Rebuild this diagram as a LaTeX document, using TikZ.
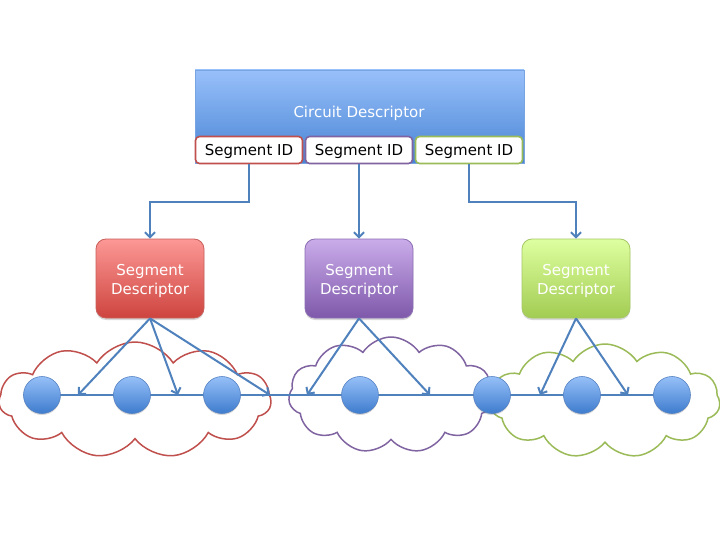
\documentclass[tikz,border=0pt]{standalone}
\usepackage{fontspec}
\setmainfont{DejaVu Sans}
\usetikzlibrary{arrows.meta,shapes.symbols,shadows}
\definecolor{blueline}{RGB}{79,129,189}
\definecolor{redC}{RGB}{192,80,77}
\definecolor{purpleC}{RGB}{128,100,162}
\definecolor{greenC}{RGB}{155,187,89}
\definecolor{cdtop}{RGB}{152,192,250}
\definecolor{cdbot}{RGB}{72,132,212}
\definecolor{cdborder}{RGB}{120,165,225}
\definecolor{redtop}{RGB}{252,152,150}
\definecolor{redbot}{RGB}{206,68,62}
\definecolor{redborder}{RGB}{200,95,90}
\definecolor{purtop}{RGB}{202,172,234}
\definecolor{purbot}{RGB}{126,88,170}
\definecolor{purborder}{RGB}{140,110,180}
\definecolor{grntop}{RGB}{222,255,160}
\definecolor{grnbot}{RGB}{162,204,82}
\definecolor{grnborder}{RGB}{165,200,100}
\definecolor{dottop}{RGB}{150,192,248}
\definecolor{dotbot}{RGB}{62,124,206}
\definecolor{dotborder}{RGB}{85,130,195}
\begin{document}
\begin{tikzpicture}[x=1pt,y=-1pt,
  font=\fontsize{15}{19}\selectfont,
  circuitbox/.style={draw=cdborder, line width=0.6pt, top color=cdtop, bottom color=cdbot,
    minimum width=329pt, minimum height=93pt, inner sep=0pt},
  idbox/.style={fill=white, line width=1.6pt, rounded corners=4pt, text depth=0pt,
    minimum width=107pt, minimum height=27pt, inner sep=0pt},
  descbox/.style={line width=0.8pt, rounded corners=10pt,
    minimum width=108pt, minimum height=79pt, inner sep=0pt,
    drop shadow={shadow xshift=0pt, shadow yshift=-2pt, opacity=0.25, fill=black!60}},
  desctext/.style={text=white, align=center, yshift=-2.5pt},
  puff/.style={cloud, cloud puffs=11, cloud puff arc=115, cloud ignores aspect,
    line width=1.5pt, inner sep=0pt},
  dot/.style={circle, minimum size=37pt, inner sep=0pt, draw=dotborder, line width=0.6pt,
    top color=dottop, bottom color=dotbot,
    drop shadow={shadow xshift=0pt, shadow yshift=-1.5pt, opacity=0.25, fill=black!60}},
  conn/.style={draw=blueline, line width=2pt, -{Straight Barb[length=5pt,width=10pt,line width=2pt]}},
  thinconn/.style={draw=blueline, line width=2pt}
]
\useasboundingbox[fill=white] (0,0) rectangle (720,540);

% clouds
\node[puff, draw=redC, minimum width=272pt, minimum height=116pt] (c1) at (135,400) {};
\node[puff, draw=purpleC, minimum width=205pt, minimum height=116pt] (c2) at (391,395) {};
\node[puff, draw=greenC, minimum width=230pt, minimum height=114pt] (c3) at (605,401) {};

% circuit descriptor
\node[circuitbox] (cd) at (359.5,116.5) {};
\node[text=white] (cdt) at (359,113.5) {Circuit Descriptor};
\node[idbox, draw=redC] (id1) at (249,150) {Segment ID};
\node[idbox, draw=purpleC] (id2) at (359,150) {Segment ID};
\node[idbox, draw=greenC] (id3) at (469,150) {Segment ID};

% segment descriptors
\node[descbox, draw=redborder, top color=redtop, bottom color=redbot,
  label={[desctext]center:Segment\\Descriptor}] (sd1) at (150,278.5) {};
\node[descbox, draw=purborder, top color=purtop, bottom color=purbot,
  label={[desctext]center:Segment\\Descriptor}] (sd2) at (359,278.5) {};
\node[descbox, draw=grnborder, top color=grntop, bottom color=grnbot,
  label={[desctext]center:Segment\\Descriptor}] (sd3) at (576,278.5) {};

% elbow points
\coordinate (e1) at (150,202);
\coordinate (e3) at (576,202);

\draw[conn] (id1.south) |- (e1) -- (sd1.north);
\draw[conn] (id2.south) -- (sd2.north);
\draw[conn] (id3.south) |- (e3) -- (sd3.north);

% line coordinates
\coordinate (a1) at (78,395);
\coordinate (a2) at (178,395);
\coordinate (a3) at (270,395);
\coordinate (a4) at (307,395);
\coordinate (a5) at (430,395);
\coordinate (a6) at (540,395);
\coordinate (a7) at (628,395);

\coordinate (p1) at (42,395);
\coordinate (p7) at (672,395);
\draw[thinconn] (p1) -- (p7);

\draw[conn] (sd1.south) -- (a1);
\draw[conn] (sd1.south) -- (a2);
\draw[conn] (sd1.south) -- (a3);
\draw[conn] (sd2.south) -- (a4);
\draw[conn] (sd2.south) -- (a5);
\draw[conn] (sd3.south) -- (a6);
\draw[conn] (sd3.south) -- (a7);

% dots
\node[dot] (n1) at (42,395) {};
\node[dot] (n2) at (132,395) {};
\node[dot] (n3) at (222,395) {};
\node[dot] (n4) at (360,395) {};
\node[dot] (n5) at (492,395) {};
\node[dot] (n6) at (582,395) {};
\node[dot] (n7) at (672,395) {};
\end{tikzpicture}
\end{document}
